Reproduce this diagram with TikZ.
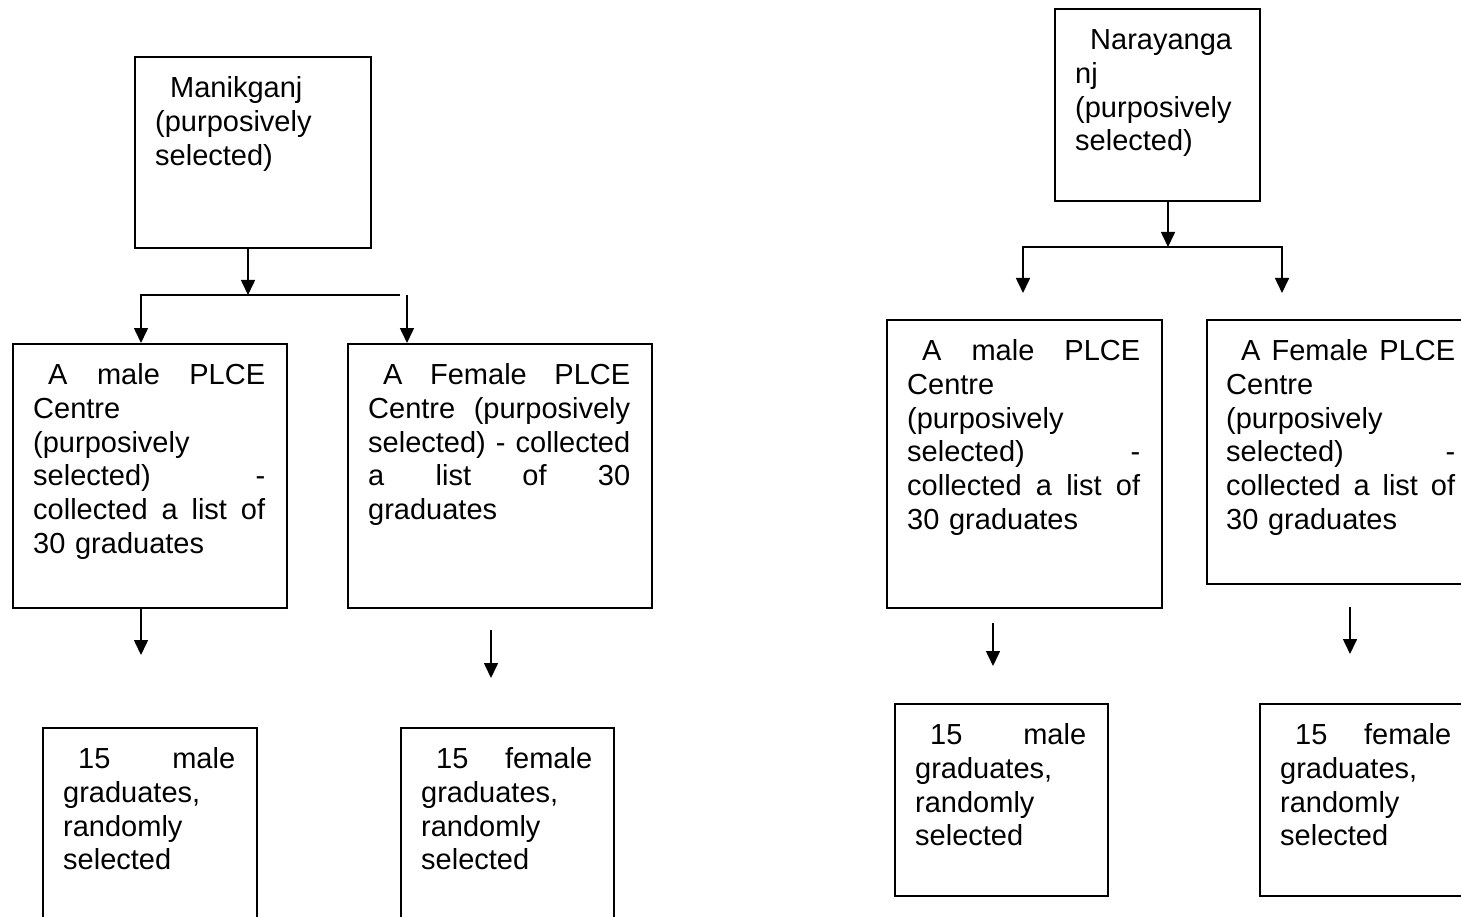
\documentclass[tikz,border=0pt]{standalone}
\usepackage{fontspec}
\setmainfont{Liberation Sans}
\usetikzlibrary{arrows.meta,positioning}
\newcommand\jl[1]{\leavevmode\hbox to \hsize{#1}}
\newcommand\myind{\hspace*{15pt}}
\begin{document}
\begin{tikzpicture}[x=1pt,y=-1pt,
  box/.style={draw, line width=1.6pt, inner sep=0pt, anchor=north west},
  txt/.style={anchor=north west, inner sep=0pt, align=left,
    font=\fontsize{29pt}{33.7pt}\selectfont, text width=#1},
  arr/.style={line width=1.6pt, -{Triangle[length=15pt,width=14pt]}},
  arr2/.style={line width=1.6pt, {Triangle[length=15pt,width=14pt]}-{Triangle[length=15pt,width=14pt]}}]
\useasboundingbox (0,0) rectangle (1461,917);

% ---------- left part ----------
\node[box, minimum width=236pt, minimum height=191pt] (m) at (134,56) {};
\node[txt=194pt, below right=18pt and 21pt of m.north west] (tm)
  {\strut\myind Manikganj\\(purposively\\selected)};

\node[box, minimum width=274pt, minimum height=264pt] (lm) at (12,343) {};
\node[txt=232pt, below right=18pt and 21pt of lm.north west] (tlm)
  {\jl{\strut\myind A \hfill male \hfill PLCE}\\Centre\\(purposively\\\jl{selected)\hfill -}\\\jl{collected \hfill a \hfill list \hfill of}\\30 graduates};

\node[box, minimum width=304pt, minimum height=264pt] (lf) at (347,343) {};
\node[txt=262pt, below right=18pt and 21pt of lf.north west] (tlf)
  {\jl{\strut\myind A \hfill Female \hfill PLCE}\\\jl{Centre \hfill (purposively}\\\jl{selected) \hfill - \hfill collected}\\\jl{a \hfill list \hfill of \hfill 30}\\graduates};

\node[box, minimum width=214pt, minimum height=260pt] (bm) at (42,727) {};
\node[txt=172pt, below right=18pt and 21pt of bm.north west] (tbm)
  {\jl{\strut\myind 15 \hfill male}\\graduates,\\randomly\\selected};

\node[box, minimum width=213pt, minimum height=260pt] (bf) at (400,727) {};
\node[txt=171pt, below right=18pt and 21pt of bf.north west] (tbf)
  {\jl{\strut\myind 15 \hfill female}\\graduates,\\randomly\\selected};

\coordinate (m1) at (248,295);
\coordinate (hl) at (141,295);
\coordinate (hr) at (400,295);
\coordinate (vr) at (407,295);
\coordinate (a1) at (141,655);
\coordinate (a2s) at (491,630);
\coordinate (a2e) at (491,678);

\draw[arr] (m.south -| m1) -- (m1);
\draw[arr] (hr) -- (hl) -- (lm.north -| hl);
\draw[arr] (vr) -- (lf.north -| vr);
\draw[arr] (lm.south -| a1) -- (a1);
\draw[arr] (a2s) -- (a2e);

% ---------- right part ----------
\node[box, minimum width=205pt, minimum height=192pt] (n) at (1054,8) {};
\node[txt=163pt, below right=18pt and 21pt of n.north west] (tn)
  {\strut\myind Narayanga\\nj\\(purposively\\selected)};

\node[box, minimum width=275pt, minimum height=288pt] (rm) at (886,319) {};
\node[txt=233pt, below right=18pt and 21pt of rm.north west] (trm)
  {\jl{\strut\myind A \hfill male \hfill PLCE}\\Centre\\(purposively\\\jl{selected)\hfill -}\\\jl{collected \hfill a \hfill list \hfill of}\\30 graduates};

\node[box, minimum width=274pt, minimum height=264pt] (rf) at (1206,319) {};
\node[txt=229pt, below right=18pt and 20pt of rf.north west] (trf)
  {\jl{\strut\myind A \hfill Female \hfill PLCE}\\Centre\\(purposively\\\jl{selected)\hfill -}\\\jl{collected \hfill a \hfill list \hfill of}\\30 graduates};

\node[box, minimum width=213pt, minimum height=192pt] (brm) at (894,703) {};
\node[txt=171pt, below right=18pt and 21pt of brm.north west] (tbrm)
  {\jl{\strut\myind 15 \hfill male}\\graduates,\\randomly\\selected};

\node[box, minimum width=213pt, minimum height=192pt] (brf) at (1259,703) {};
\node[txt=171pt, below right=18pt and 21pt of brf.north west] (tbrf)
  {\jl{\strut\myind 15 \hfill female}\\graduates,\\randomly\\selected};

\coordinate (n1) at (1168,247);
\coordinate (nl) at (1023,247);
\coordinate (nr) at (1282,247);
\coordinate (nle) at (1023,293);
\coordinate (nre) at (1282,293);
\coordinate (b1s) at (993,623);
\coordinate (b1e) at (993,666);
\coordinate (b2s) at (1350,607);
\coordinate (b2e) at (1350,654);

\draw[arr] (n.south -| n1) -- (n1);
\draw[arr2] (nle) -- (nl) -- (nr) -- (nre);
\draw[arr] (b1s) -- (b1e);
\draw[arr] (b2s) -- (b2e);
\end{tikzpicture}
\end{document}
